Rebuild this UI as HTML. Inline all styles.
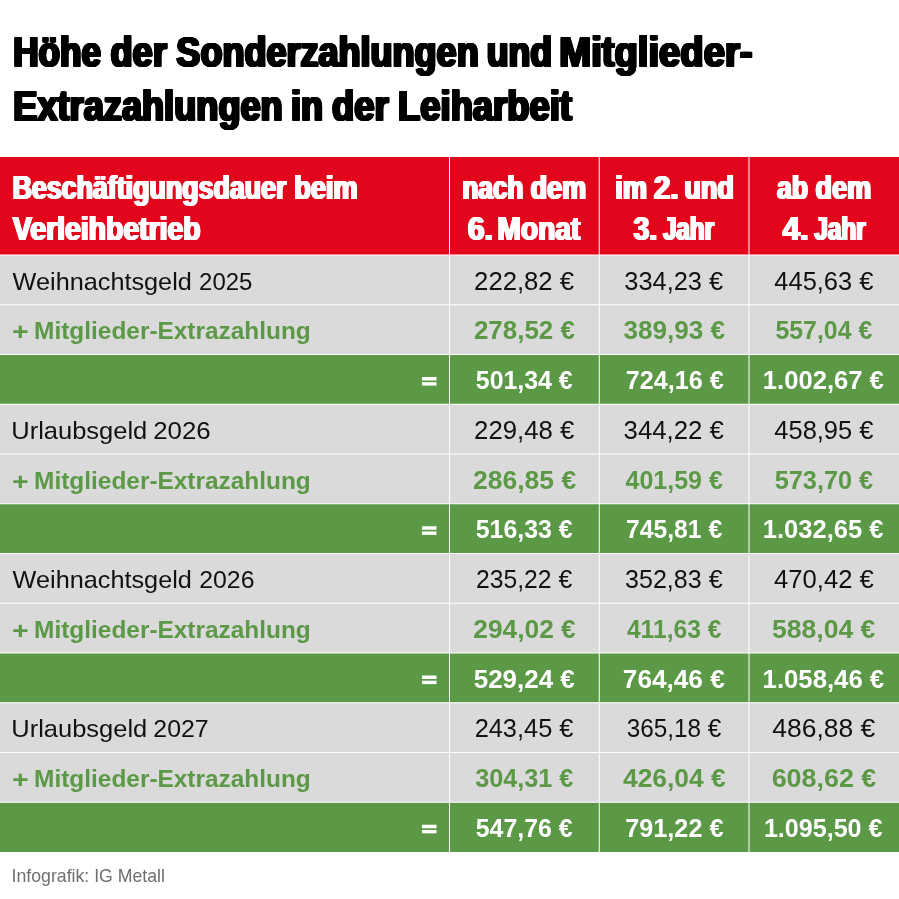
<!DOCTYPE html>
<html lang="de">
<head>
<meta charset="utf-8">
<title>Höhe der Sonderzahlungen und Mitglieder-Extrazahlungen in der Leiharbeit</title>
<style>
html,body{margin:0;padding:0;background:#fff;}
body{width:899px;height:899px;overflow:hidden;font-family:"Liberation Sans",sans-serif;}
svg{display:block;position:absolute;left:0;top:0;will-change:transform;font-family:"Liberation Sans",sans-serif;}
svg text{white-space:pre;}
</style>
</head>
<body>
<svg width="899" height="899" viewBox="0 0 899 899">
<rect x="0.00" y="157.00" width="899.00" height="98.00" fill="#e2051c"/>
<rect x="0.00" y="255.00" width="899.00" height="49.76" fill="#dadada"/>
<rect x="0.00" y="304.75" width="899.00" height="49.76" fill="#dadada"/>
<rect x="0.00" y="354.50" width="899.00" height="49.76" fill="#5b9946"/>
<rect x="0.00" y="404.25" width="899.00" height="49.76" fill="#dadada"/>
<rect x="0.00" y="454.00" width="899.00" height="49.76" fill="#dadada"/>
<rect x="0.00" y="503.75" width="899.00" height="49.76" fill="#5b9946"/>
<rect x="0.00" y="553.50" width="899.00" height="49.76" fill="#dadada"/>
<rect x="0.00" y="603.25" width="899.00" height="49.76" fill="#dadada"/>
<rect x="0.00" y="653.00" width="899.00" height="49.76" fill="#5b9946"/>
<rect x="0.00" y="702.75" width="899.00" height="49.76" fill="#dadada"/>
<rect x="0.00" y="752.50" width="899.00" height="49.76" fill="#dadada"/>
<rect x="0.00" y="802.25" width="899.00" height="49.76" fill="#5b9946"/>
<rect x="0.00" y="254.50" width="899.00" height="1.00" fill="#fff"/>
<rect x="0.00" y="304.25" width="899.00" height="1.00" fill="#fff"/>
<rect x="0.00" y="354.00" width="899.00" height="1.00" fill="#fff"/>
<rect x="0.00" y="403.75" width="899.00" height="1.00" fill="#fff"/>
<rect x="0.00" y="453.50" width="899.00" height="1.00" fill="#fff"/>
<rect x="0.00" y="503.25" width="899.00" height="1.00" fill="#fff"/>
<rect x="0.00" y="553.00" width="899.00" height="1.00" fill="#fff"/>
<rect x="0.00" y="602.75" width="899.00" height="1.00" fill="#fff"/>
<rect x="0.00" y="652.50" width="899.00" height="1.00" fill="#fff"/>
<rect x="0.00" y="702.25" width="899.00" height="1.00" fill="#fff"/>
<rect x="0.00" y="752.00" width="899.00" height="1.00" fill="#fff"/>
<rect x="0.00" y="801.75" width="899.00" height="1.00" fill="#fff"/>
<rect x="449.00" y="157.00" width="1.00" height="696.10" fill="#fff"/>
<rect x="598.75" y="157.00" width="1.00" height="696.10" fill="#fff"/>
<rect x="748.50" y="157.00" width="1.00" height="696.10" fill="#fff"/>
<rect x="0.00" y="852.10" width="899.00" height="46.90" fill="#fff"/>
<text id="t1" x="11.95" y="67.00" font-size="43" font-weight="700" fill="#000" textLength="87.82" lengthAdjust="spacingAndGlyphs">Höhe</text>
<use href="#t1" x="0.50"/>
<use href="#t1" x="1.00"/>
<use href="#t1" x="1.50"/>
<use href="#t1" x="2.00"/>
<use href="#t1" x="2.50"/>
<use href="#t1" x="0.00" y="-1"/>
<use href="#t1" x="0.50" y="-1"/>
<use href="#t1" x="1.00" y="-1"/>
<use href="#t1" x="1.50" y="-1"/>
<use href="#t1" x="2.00" y="-1"/>
<use href="#t1" x="2.50" y="-1"/>
<text id="t2" x="109.21" y="67.00" font-size="43" font-weight="700" fill="#000" textLength="56.36" lengthAdjust="spacingAndGlyphs">der</text>
<use href="#t2" x="0.50"/>
<use href="#t2" x="1.00"/>
<use href="#t2" x="1.50"/>
<use href="#t2" x="2.00"/>
<use href="#t2" x="2.50"/>
<use href="#t2" x="0.00" y="-1"/>
<use href="#t2" x="0.50" y="-1"/>
<use href="#t2" x="1.00" y="-1"/>
<use href="#t2" x="1.50" y="-1"/>
<use href="#t2" x="2.00" y="-1"/>
<use href="#t2" x="2.50" y="-1"/>
<text id="t3" x="175.12" y="67.00" font-size="43" font-weight="700" fill="#000" textLength="302.31" lengthAdjust="spacingAndGlyphs">Sonderzahlungen</text>
<use href="#t3" x="0.50"/>
<use href="#t3" x="1.00"/>
<use href="#t3" x="1.50"/>
<use href="#t3" x="2.00"/>
<use href="#t3" x="2.50"/>
<use href="#t3" x="0.00" y="-1"/>
<use href="#t3" x="0.50" y="-1"/>
<use href="#t3" x="1.00" y="-1"/>
<use href="#t3" x="1.50" y="-1"/>
<use href="#t3" x="2.00" y="-1"/>
<use href="#t3" x="2.50" y="-1"/>
<text id="t4" x="485.42" y="67.00" font-size="43" font-weight="700" fill="#000" textLength="65.44" lengthAdjust="spacingAndGlyphs">und</text>
<use href="#t4" x="0.50"/>
<use href="#t4" x="1.00"/>
<use href="#t4" x="1.50"/>
<use href="#t4" x="2.00"/>
<use href="#t4" x="2.50"/>
<use href="#t4" x="0.00" y="-1"/>
<use href="#t4" x="0.50" y="-1"/>
<use href="#t4" x="1.00" y="-1"/>
<use href="#t4" x="1.50" y="-1"/>
<use href="#t4" x="2.00" y="-1"/>
<use href="#t4" x="2.50" y="-1"/>
<text id="t5" x="558.07" y="67.00" font-size="43" font-weight="700" fill="#000" textLength="193.25" lengthAdjust="spacingAndGlyphs">Mitglieder-</text>
<use href="#t5" x="0.50"/>
<use href="#t5" x="1.00"/>
<use href="#t5" x="1.50"/>
<use href="#t5" x="2.00"/>
<use href="#t5" x="2.50"/>
<use href="#t5" x="0.00" y="-1"/>
<use href="#t5" x="0.50" y="-1"/>
<use href="#t5" x="1.00" y="-1"/>
<use href="#t5" x="1.50" y="-1"/>
<use href="#t5" x="2.00" y="-1"/>
<use href="#t5" x="2.50" y="-1"/>
<text id="t6" x="12.02" y="121.00" font-size="43" font-weight="700" fill="#000" textLength="269.46" lengthAdjust="spacingAndGlyphs">Extrazahlungen</text>
<use href="#t6" x="0.50"/>
<use href="#t6" x="1.00"/>
<use href="#t6" x="1.50"/>
<use href="#t6" x="2.00"/>
<use href="#t6" x="2.50"/>
<use href="#t6" x="0.00" y="-1"/>
<use href="#t6" x="0.50" y="-1"/>
<use href="#t6" x="1.00" y="-1"/>
<use href="#t6" x="1.50" y="-1"/>
<use href="#t6" x="2.00" y="-1"/>
<use href="#t6" x="2.50" y="-1"/>
<text id="t7" x="289.75" y="121.00" font-size="43" font-weight="700" fill="#000" textLength="32.16" lengthAdjust="spacingAndGlyphs">in</text>
<use href="#t7" x="0.50"/>
<use href="#t7" x="1.00"/>
<use href="#t7" x="1.50"/>
<use href="#t7" x="2.00"/>
<use href="#t7" x="2.50"/>
<use href="#t7" x="0.00" y="-1"/>
<use href="#t7" x="0.50" y="-1"/>
<use href="#t7" x="1.00" y="-1"/>
<use href="#t7" x="1.50" y="-1"/>
<use href="#t7" x="2.00" y="-1"/>
<use href="#t7" x="2.50" y="-1"/>
<text id="t8" x="330.67" y="121.00" font-size="43" font-weight="700" fill="#000" textLength="56.70" lengthAdjust="spacingAndGlyphs">der</text>
<use href="#t8" x="0.50"/>
<use href="#t8" x="1.00"/>
<use href="#t8" x="1.50"/>
<use href="#t8" x="2.00"/>
<use href="#t8" x="2.50"/>
<use href="#t8" x="0.00" y="-1"/>
<use href="#t8" x="0.50" y="-1"/>
<use href="#t8" x="1.00" y="-1"/>
<use href="#t8" x="1.50" y="-1"/>
<use href="#t8" x="2.00" y="-1"/>
<use href="#t8" x="2.50" y="-1"/>
<text id="t9" x="396.87" y="121.00" font-size="43" font-weight="700" fill="#000" textLength="173.81" lengthAdjust="spacingAndGlyphs">Leiharbeit</text>
<use href="#t9" x="0.50"/>
<use href="#t9" x="1.00"/>
<use href="#t9" x="1.50"/>
<use href="#t9" x="2.00"/>
<use href="#t9" x="2.50"/>
<use href="#t9" x="0.00" y="-1"/>
<use href="#t9" x="0.50" y="-1"/>
<use href="#t9" x="1.00" y="-1"/>
<use href="#t9" x="1.50" y="-1"/>
<use href="#t9" x="2.00" y="-1"/>
<use href="#t9" x="2.50" y="-1"/>
<text id="t10" x="11.45" y="199.00" font-size="34" font-weight="700" fill="#fff" textLength="273.90" lengthAdjust="spacingAndGlyphs">Beschäftigungsdauer</text>
<use href="#t10" x="0.44"/>
<use href="#t10" x="0.88"/>
<use href="#t10" x="1.32"/>
<use href="#t10" x="1.76"/>
<use href="#t10" x="2.20"/>
<text id="t11" x="293.13" y="199.00" font-size="34" font-weight="700" fill="#fff" textLength="63.38" lengthAdjust="spacingAndGlyphs">beim</text>
<use href="#t11" x="0.44"/>
<use href="#t11" x="0.88"/>
<use href="#t11" x="1.32"/>
<use href="#t11" x="1.76"/>
<use href="#t11" x="2.20"/>
<text id="t12" x="461.35" y="199.00" font-size="34" font-weight="700" fill="#fff" textLength="60.90" lengthAdjust="spacingAndGlyphs">nach</text>
<use href="#t12" x="0.44"/>
<use href="#t12" x="0.88"/>
<use href="#t12" x="1.32"/>
<use href="#t12" x="1.76"/>
<use href="#t12" x="2.20"/>
<text id="t13" x="529.51" y="199.00" font-size="34" font-weight="700" fill="#fff" textLength="55.58" lengthAdjust="spacingAndGlyphs">dem</text>
<use href="#t13" x="0.44"/>
<use href="#t13" x="0.88"/>
<use href="#t13" x="1.32"/>
<use href="#t13" x="1.76"/>
<use href="#t13" x="2.20"/>
<text id="t14" x="614.14" y="199.00" font-size="34" font-weight="700" fill="#fff" textLength="31.74" lengthAdjust="spacingAndGlyphs">im</text>
<use href="#t14" x="0.44"/>
<use href="#t14" x="0.88"/>
<use href="#t14" x="1.32"/>
<use href="#t14" x="1.76"/>
<use href="#t14" x="2.20"/>
<text id="t15" x="652.82" y="199.00" font-size="34" font-weight="700" fill="#fff" textLength="24.64" lengthAdjust="spacingAndGlyphs">2.</text>
<use href="#t15" x="0.44"/>
<use href="#t15" x="0.88"/>
<use href="#t15" x="1.32"/>
<use href="#t15" x="1.76"/>
<use href="#t15" x="2.20"/>
<text id="t16" x="683.31" y="199.00" font-size="34" font-weight="700" fill="#fff" textLength="49.44" lengthAdjust="spacingAndGlyphs">und</text>
<use href="#t16" x="0.44"/>
<use href="#t16" x="0.88"/>
<use href="#t16" x="1.32"/>
<use href="#t16" x="1.76"/>
<use href="#t16" x="2.20"/>
<text id="t17" x="776.08" y="199.00" font-size="34" font-weight="700" fill="#fff" textLength="30.79" lengthAdjust="spacingAndGlyphs">ab</text>
<use href="#t17" x="0.44"/>
<use href="#t17" x="0.88"/>
<use href="#t17" x="1.32"/>
<use href="#t17" x="1.76"/>
<use href="#t17" x="2.20"/>
<text id="t18" x="814.43" y="199.00" font-size="34" font-weight="700" fill="#fff" textLength="55.63" lengthAdjust="spacingAndGlyphs">dem</text>
<use href="#t18" x="0.44"/>
<use href="#t18" x="0.88"/>
<use href="#t18" x="1.32"/>
<use href="#t18" x="1.76"/>
<use href="#t18" x="2.20"/>
<text id="t19" x="11.82" y="240.00" font-size="34" font-weight="700" fill="#fff" textLength="187.70" lengthAdjust="spacingAndGlyphs">Verleihbetrieb</text>
<use href="#t19" x="0.44"/>
<use href="#t19" x="0.88"/>
<use href="#t19" x="1.32"/>
<use href="#t19" x="1.76"/>
<use href="#t19" x="2.20"/>
<text id="t20" x="466.71" y="240.00" font-size="34" font-weight="700" fill="#fff" textLength="25.04" lengthAdjust="spacingAndGlyphs">6.</text>
<use href="#t20" x="0.44"/>
<use href="#t20" x="0.88"/>
<use href="#t20" x="1.32"/>
<use href="#t20" x="1.76"/>
<use href="#t20" x="2.20"/>
<text id="t21" x="496.39" y="240.00" font-size="34" font-weight="700" fill="#fff" textLength="82.79" lengthAdjust="spacingAndGlyphs">Monat</text>
<use href="#t21" x="0.44"/>
<use href="#t21" x="0.88"/>
<use href="#t21" x="1.32"/>
<use href="#t21" x="1.76"/>
<use href="#t21" x="2.20"/>
<text id="t22" x="632.53" y="240.00" font-size="34" font-weight="700" fill="#fff" textLength="23.52" lengthAdjust="spacingAndGlyphs">3.</text>
<use href="#t22" x="0.44"/>
<use href="#t22" x="0.88"/>
<use href="#t22" x="1.32"/>
<use href="#t22" x="1.76"/>
<use href="#t22" x="2.20"/>
<text id="t23" x="661.96" y="240.00" font-size="34" font-weight="700" fill="#fff" textLength="50.85" lengthAdjust="spacingAndGlyphs">Jahr</text>
<use href="#t23" x="0.44"/>
<use href="#t23" x="0.88"/>
<use href="#t23" x="1.32"/>
<use href="#t23" x="1.76"/>
<use href="#t23" x="2.20"/>
<text id="t24" x="781.38" y="240.00" font-size="34" font-weight="700" fill="#fff" textLength="26.19" lengthAdjust="spacingAndGlyphs">4.</text>
<use href="#t24" x="0.44"/>
<use href="#t24" x="0.88"/>
<use href="#t24" x="1.32"/>
<use href="#t24" x="1.76"/>
<use href="#t24" x="2.20"/>
<text id="t25" x="813.30" y="240.00" font-size="34" font-weight="700" fill="#fff" textLength="51.12" lengthAdjust="spacingAndGlyphs">Jahr</text>
<use href="#t25" x="0.44"/>
<use href="#t25" x="0.88"/>
<use href="#t25" x="1.32"/>
<use href="#t25" x="1.76"/>
<use href="#t25" x="2.20"/>
<text x="12.61" y="289.60" font-size="24.8" fill="#111" textLength="179.20" lengthAdjust="spacingAndGlyphs">Weihnachtsgeld</text>
<text x="199.10" y="289.60" font-size="24.8" fill="#111" textLength="53.29" lengthAdjust="spacingAndGlyphs">2025</text>
<text x="474.12" y="289.60" font-size="25.4" fill="#111" textLength="99.96" lengthAdjust="spacingAndGlyphs">222,82 €</text>
<text x="624.29" y="289.60" font-size="25.4" fill="#111" textLength="98.85" lengthAdjust="spacingAndGlyphs">334,23 €</text>
<text x="774.33" y="289.60" font-size="25.4" fill="#111" textLength="99.08" lengthAdjust="spacingAndGlyphs">445,63 €</text>
<text x="12.10" y="340.35" font-size="24.8" font-weight="700" fill="#5b9946" textLength="16.65" lengthAdjust="spacingAndGlyphs">+</text>
<text x="34.11" y="339.35" font-size="24.8" font-weight="700" fill="#5b9946" textLength="276.67" lengthAdjust="spacingAndGlyphs">Mitglieder-Extrazahlung</text>
<text x="473.90" y="339.35" font-size="25.4" font-weight="700" fill="#5b9946" textLength="101.05" lengthAdjust="spacingAndGlyphs">278,52 €</text>
<text x="623.51" y="339.35" font-size="25.4" font-weight="700" fill="#5b9946" textLength="101.63" lengthAdjust="spacingAndGlyphs">389,93 €</text>
<text x="775.47" y="339.35" font-size="25.4" font-weight="700" fill="#5b9946" textLength="96.75" lengthAdjust="spacingAndGlyphs">557,04 €</text>
<rect x="422.00" y="377.00" width="14.50" height="3.50" fill="#fff"/>
<rect x="422.00" y="382.20" width="14.50" height="3.40" fill="#fff"/>
<text x="475.82" y="389.10" font-size="25.4" font-weight="700" fill="#fff" textLength="96.91" lengthAdjust="spacingAndGlyphs">501,34 €</text>
<text x="625.72" y="389.10" font-size="25.4" font-weight="700" fill="#fff" textLength="97.96" lengthAdjust="spacingAndGlyphs">724,16 €</text>
<text x="762.82" y="389.10" font-size="25.4" font-weight="700" fill="#fff" textLength="121.02" lengthAdjust="spacingAndGlyphs">1.002,67 €</text>
<text x="11.27" y="438.85" font-size="24.8" fill="#111" textLength="136.03" lengthAdjust="spacingAndGlyphs">Urlaubsgeld</text>
<text x="153.22" y="438.85" font-size="24.8" fill="#111" textLength="57.50" lengthAdjust="spacingAndGlyphs">2026</text>
<text x="474.10" y="438.85" font-size="25.4" fill="#111" textLength="100.10" lengthAdjust="spacingAndGlyphs">229,48 €</text>
<text x="623.62" y="438.85" font-size="25.4" fill="#111" textLength="100.20" lengthAdjust="spacingAndGlyphs">344,22 €</text>
<text x="774.33" y="438.85" font-size="25.4" fill="#111" textLength="99.08" lengthAdjust="spacingAndGlyphs">458,95 €</text>
<text x="12.10" y="489.60" font-size="24.8" font-weight="700" fill="#5b9946" textLength="16.65" lengthAdjust="spacingAndGlyphs">+</text>
<text x="34.11" y="488.60" font-size="24.8" font-weight="700" fill="#5b9946" textLength="276.67" lengthAdjust="spacingAndGlyphs">Mitglieder-Extrazahlung</text>
<text x="473.11" y="488.60" font-size="25.4" font-weight="700" fill="#5b9946" textLength="103.01" lengthAdjust="spacingAndGlyphs">286,85 €</text>
<text x="625.59" y="488.60" font-size="25.4" font-weight="700" fill="#5b9946" textLength="97.20" lengthAdjust="spacingAndGlyphs">401,59 €</text>
<text x="774.66" y="488.60" font-size="25.4" font-weight="700" fill="#5b9946" textLength="98.53" lengthAdjust="spacingAndGlyphs">573,70 €</text>
<rect x="422.00" y="526.25" width="14.50" height="3.50" fill="#fff"/>
<rect x="422.00" y="531.45" width="14.50" height="3.40" fill="#fff"/>
<text x="475.76" y="538.35" font-size="25.4" font-weight="700" fill="#fff" textLength="96.90" lengthAdjust="spacingAndGlyphs">516,33 €</text>
<text x="626.10" y="538.35" font-size="25.4" font-weight="700" fill="#fff" textLength="96.04" lengthAdjust="spacingAndGlyphs">745,81 €</text>
<text x="762.83" y="538.35" font-size="25.4" font-weight="700" fill="#fff" textLength="120.69" lengthAdjust="spacingAndGlyphs">1.032,65 €</text>
<text x="12.61" y="588.10" font-size="24.8" fill="#111" textLength="179.25" lengthAdjust="spacingAndGlyphs">Weihnachtsgeld</text>
<text x="199.18" y="588.10" font-size="24.8" fill="#111" textLength="55.28" lengthAdjust="spacingAndGlyphs">2026</text>
<text x="476.10" y="588.10" font-size="25.4" fill="#111" textLength="96.02" lengthAdjust="spacingAndGlyphs">235,22 €</text>
<text x="625.10" y="588.10" font-size="25.4" fill="#111" textLength="97.48" lengthAdjust="spacingAndGlyphs">352,83 €</text>
<text x="773.98" y="588.10" font-size="25.4" fill="#111" textLength="99.83" lengthAdjust="spacingAndGlyphs">470,42 €</text>
<text x="12.10" y="638.85" font-size="24.8" font-weight="700" fill="#5b9946" textLength="16.65" lengthAdjust="spacingAndGlyphs">+</text>
<text x="34.11" y="637.85" font-size="24.8" font-weight="700" fill="#5b9946" textLength="276.67" lengthAdjust="spacingAndGlyphs">Mitglieder-Extrazahlung</text>
<text x="473.33" y="637.85" font-size="25.4" font-weight="700" fill="#5b9946" textLength="102.42" lengthAdjust="spacingAndGlyphs">294,02 €</text>
<text x="626.88" y="637.85" font-size="25.4" font-weight="700" fill="#5b9946" textLength="94.62" lengthAdjust="spacingAndGlyphs">411,63 €</text>
<text x="771.95" y="637.85" font-size="25.4" font-weight="700" fill="#5b9946" textLength="103.46" lengthAdjust="spacingAndGlyphs">588,04 €</text>
<rect x="422.00" y="675.50" width="14.50" height="3.50" fill="#fff"/>
<rect x="422.00" y="680.70" width="14.50" height="3.40" fill="#fff"/>
<text x="473.72" y="687.60" font-size="25.4" font-weight="700" fill="#fff" textLength="101.03" lengthAdjust="spacingAndGlyphs">529,24 €</text>
<text x="622.82" y="687.60" font-size="25.4" font-weight="700" fill="#fff" textLength="101.96" lengthAdjust="spacingAndGlyphs">764,46 €</text>
<text x="762.62" y="687.60" font-size="25.4" font-weight="700" fill="#fff" textLength="121.53" lengthAdjust="spacingAndGlyphs">1.058,46 €</text>
<text x="11.29" y="737.35" font-size="24.8" fill="#111" textLength="135.98" lengthAdjust="spacingAndGlyphs">Urlaubsgeld</text>
<text x="153.37" y="737.35" font-size="24.8" fill="#111" textLength="55.35" lengthAdjust="spacingAndGlyphs">2027</text>
<text x="474.63" y="737.35" font-size="25.4" fill="#111" textLength="98.82" lengthAdjust="spacingAndGlyphs">243,45 €</text>
<text x="626.80" y="737.35" font-size="25.4" fill="#111" textLength="94.57" lengthAdjust="spacingAndGlyphs">365,18 €</text>
<text x="772.33" y="737.35" font-size="25.4" fill="#111" textLength="103.02" lengthAdjust="spacingAndGlyphs">486,88 €</text>
<text x="12.10" y="788.10" font-size="24.8" font-weight="700" fill="#5b9946" textLength="16.65" lengthAdjust="spacingAndGlyphs">+</text>
<text x="34.11" y="787.10" font-size="24.8" font-weight="700" fill="#5b9946" textLength="276.67" lengthAdjust="spacingAndGlyphs">Mitglieder-Extrazahlung</text>
<text x="475.14" y="787.10" font-size="25.4" font-weight="700" fill="#5b9946" textLength="98.29" lengthAdjust="spacingAndGlyphs">304,31 €</text>
<text x="623.00" y="787.10" font-size="25.4" font-weight="700" fill="#5b9946" textLength="102.69" lengthAdjust="spacingAndGlyphs">426,04 €</text>
<text x="771.68" y="787.10" font-size="25.4" font-weight="700" fill="#5b9946" textLength="104.61" lengthAdjust="spacingAndGlyphs">608,62 €</text>
<rect x="422.00" y="824.75" width="14.50" height="3.50" fill="#fff"/>
<rect x="422.00" y="829.95" width="14.50" height="3.40" fill="#fff"/>
<text x="475.76" y="836.85" font-size="25.4" font-weight="700" fill="#fff" textLength="96.90" lengthAdjust="spacingAndGlyphs">547,76 €</text>
<text x="625.27" y="836.85" font-size="25.4" font-weight="700" fill="#fff" textLength="98.21" lengthAdjust="spacingAndGlyphs">791,22 €</text>
<text x="763.88" y="836.85" font-size="25.4" font-weight="700" fill="#fff" textLength="118.64" lengthAdjust="spacingAndGlyphs">1.095,50 €</text>
<text x="11.57" y="881.60" font-size="17.8" fill="#706f6f" textLength="153.36" lengthAdjust="spacingAndGlyphs">Infografik: IG Metall</text>
</svg>
</body>
</html>
